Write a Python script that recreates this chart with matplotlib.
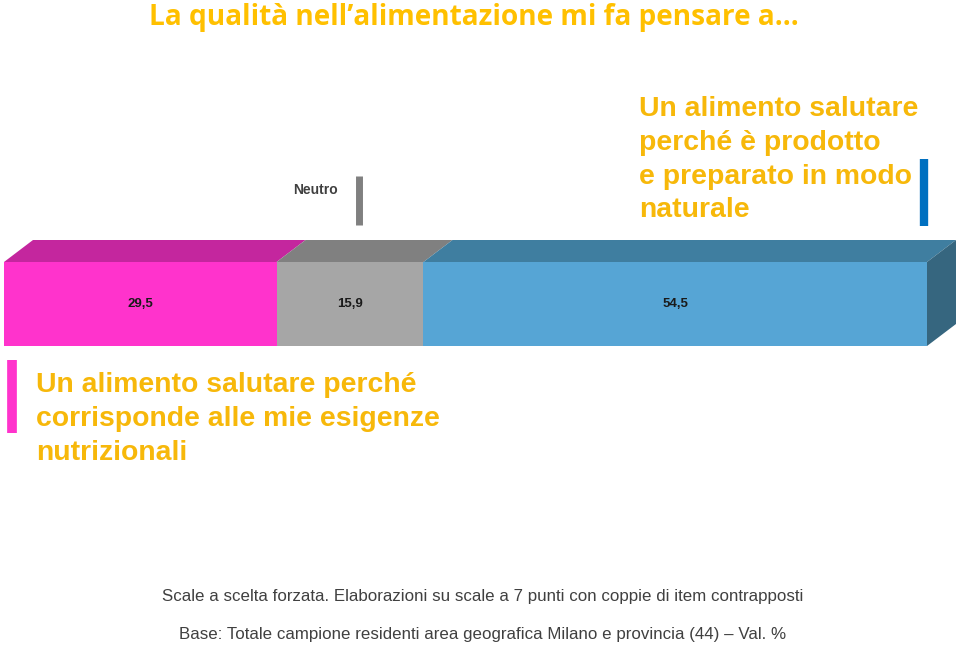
import matplotlib.pyplot as plt
from matplotlib.patches import Polygon
import numpy as np

# data
labels = ["29,5", "15,9", "54,5"]
values = [29.5, 15.9, 54.5]
front_colors = ["#FF33CC", "#A6A6A6", "#56A5D5"]
top_colors = ["#C4269E", "#808080", "#3F7EA0"]
side_color = "#36667F"

title = "La qualità nell\u2019alimentazione mi fa pensare a\u2026"
left_label = "Un alimento salutare perché\ncorrisponde alle mie esigenze\nnutrizionali"
right_label = "Un alimento salutare\nperché è prodotto\ne preparato in modo\nnaturale"
note1 = "Scale a scelta forzata. Elaborazioni su scale a 7 punti con coppie di item contrapposti"
note2 = "Base: Totale campione residenti area geografica Milano e provincia (44) \u2013 Val. %"

W, H = 960, 646
fig = plt.figure(figsize=(W / 100, H / 100), dpi=100)
ax = fig.add_axes([0, 0, 1, 1])

# x in percent (front face goes from px 4 to 927), y in pixel rows
total = sum(values)
scale = 923 / total
ax.set_xlim(-4 / scale, (W - 4) / scale)
ax.set_ylim(H, 0)
ax.axis("off")

bar_y, bar_h = 304, 84
dx, dy = 29 / scale, 22
top = bar_y - bar_h / 2

lefts = np.concatenate([[0], np.cumsum(values)[:-1]])
ax.barh(bar_y, values, left=lefts, height=bar_h, color=front_colors, linewidth=0)

for l, v, c in zip(lefts, values, top_colors):
    ax.add_patch(Polygon([(l, top), (l + v, top), (l + v + dx, top - dy), (l + dx, top - dy)],
                         closed=True, facecolor=c, edgecolor="none"))
end = total
ax.add_patch(Polygon([(end, top), (end + dx, top - dy), (end + dx, top - dy + bar_h), (end, top + bar_h)],
                     closed=True, facecolor=side_color, edgecolor="none"))

for l, v, t in zip(lefts, values, labels):
    ax.text(l + v / 2, bar_y, t, ha="center", va="center", fontsize=9.5,
            fontweight="bold", family="Liberation Sans", color="#1A1A1A")

def px(x):
    return (x - 4) / scale

# title
fig.text(474 / W, 1 - 18 / H, title, ha="center", va="center", fontsize=20.2,
         fontweight="bold", family="Open Sans", color="#FFC000")

# neutro marker
ax.text(px(338), 190, "Neutro", ha="right", va="center", fontsize=10,
        fontweight="bold", family="Liberation Sans", color="#404040")
ax.plot([px(359.5), px(359.5)], [176, 225], color="#808080", lw=5, solid_capstyle="butt")

# right label
ax.text(px(639), 96, right_label, ha="left", va="top", fontsize=20.4,
        fontweight="bold", family="Liberation Sans", color="#F7B80A", linespacing=1.39)
ax.plot([px(923.5), px(923.5)], [159, 226], color="#0070C0", lw=6, solid_capstyle="butt")

# left label
ax.text(px(36), 372, left_label, ha="left", va="top", fontsize=20.4,
        fontweight="bold", family="Liberation Sans", color="#F7B80A", linespacing=1.39)
ax.plot([px(12), px(12)], [360, 433], color="#FF33CC", lw=7, solid_capstyle="butt")

# notes
fig.text(483 / W, 1 - 596 / H, note1, ha="center", va="center", fontsize=12.2,
         family="Liberation Sans", color="#404040")
fig.text(483 / W, 1 - 634 / H, note2, ha="center", va="center", fontsize=12.2,
         family="Liberation Sans", color="#404040")

fig.savefig("out.png", dpi=100)
